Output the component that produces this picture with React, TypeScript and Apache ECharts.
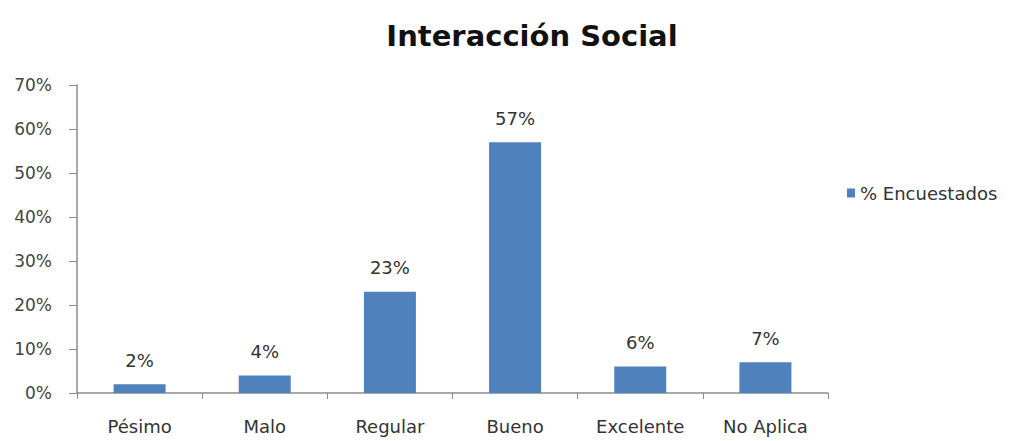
import React, { useEffect, useRef } from "react";
import * as echarts from "echarts";

const categories = ["Pésimo", "Malo", "Regular", "Bueno", "Excelente", "No Aplica"];
const values = [2, 4, 23, 57, 6, 7];
const seriesName = "% Encuestados";
const titleText = "Interacción Social";

export default function App() {
  const ref = useRef<HTMLDivElement>(null);
  useEffect(() => {
    const chart = echarts.init(ref.current!, null, { renderer: "svg" });
    const font = "'DejaVu Sans', 'Open Sans', sans-serif";
    chart.setOption({
      animation: false,
      backgroundColor: "#ffffff",
      title: {
        text: titleText,
        left: 527,
        textAlign: "center",
        top: 16,
        textStyle: { fontFamily: font, fontWeight: "bold", fontSize: 29, color: "#111" },
      },
      legend: {
        data: [seriesName],
        left: 842,
        top: 179,
        itemWidth: 8,
        itemHeight: 9,
        itemGap: 5,
        icon: "rect",
        textStyle: { fontFamily: font, fontSize: 18, color: "#333", padding: [0, 0, 0, 0] },
      },
      grid: { left: 77, right: 188, top: 85, bottom: 48, containLabel: false },
      xAxis: {
        type: "category",
        data: categories,
        axisLine: { lineStyle: { color: "#8c8c8c", width: 1.5 } },
        axisTick: { show: true, length: 6, lineStyle: { color: "#8c8c8c" }, alignWithLabel: false },
        axisLabel: { fontFamily: font, fontSize: 18, color: "#333", margin: 24 },
      },
      yAxis: {
        type: "value",
        min: 0,
        max: 70,
        interval: 10,
        splitLine: { show: false },
        axisLine: { show: true, lineStyle: { color: "#8c8c8c", width: 1.5 } },
        axisTick: { show: true, length: 8, lineStyle: { color: "#8c8c8c" } },
        axisLabel: { fontFamily: font, fontSize: 17, color: "#444", margin: 25, formatter: "{value}%" },
      },
      series: [
        {
          name: seriesName,
          type: "bar",
          data: values,
          barWidth: 52,
          itemStyle: { color: "#4f81bd" },
          label: {
            show: true,
            position: "top",
            distance: 15,
            formatter: "{c}%",
            fontFamily: font,
            fontSize: 18,
            color: "#333",
          },
        },
      ],
    });
    return () => chart.dispose();
  }, []);
  return <div ref={ref} style={{ position: "fixed", left: 0, top: 0, width: 1016, height: 441 }} />;
}
